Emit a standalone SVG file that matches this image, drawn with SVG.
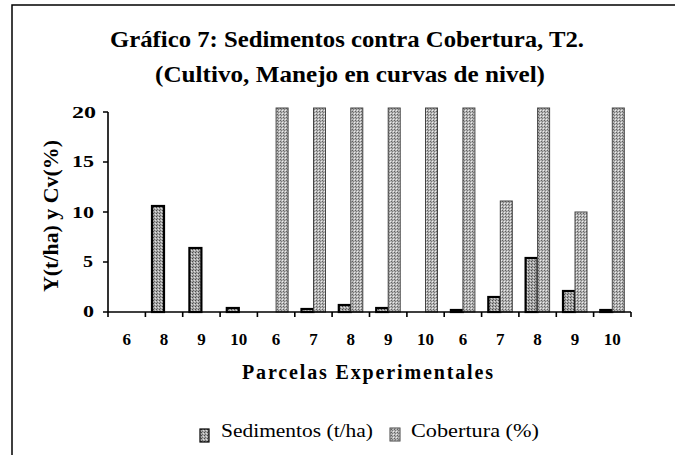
<svg xmlns="http://www.w3.org/2000/svg" width="675" height="456" viewBox="0 0 675 456">
<style>
  text { font-family: "Liberation Serif", "DejaVu Serif", "Times New Roman", serif; fill: #000; }
  .title { font-weight: bold; font-size: 23px; }
  .tick { font-weight: bold; font-size: 17px; }
  .axt { font-weight: bold; font-size: 20px; }
  .leg { font-size: 18px; }
  .ax { stroke: #000; stroke-width: 1.6; fill: none; }
  .sed { fill: url(#sedPat); stroke: #000; stroke-width: 2.2; }
  .cob { fill: url(#cobPat); stroke: #444; stroke-width: 1; }
  .frame { stroke: #000; stroke-width: 1.5; fill: none; }
</style>
<defs>
  <pattern id="sedPat" width="3" height="3" patternUnits="userSpaceOnUse">
    <rect width="3" height="3" fill="#a8a8a8"/>
    <rect x="0" y="0" width="1" height="1" fill="#4a4a4a"/>
    <rect x="2" y="1" width="1" height="1" fill="#e0e0e0"/>
    <rect x="1" y="2" width="1" height="1" fill="#6a6a6a"/>
  </pattern>
  <pattern id="cobPat" width="3" height="3" patternUnits="userSpaceOnUse">
    <rect width="3" height="3" fill="#b4b4b4"/>
    <rect x="1" y="0" width="1" height="1" fill="#606060"/>
    <rect x="0" y="2" width="1" height="1" fill="#eeeeee"/>
    <rect x="2" y="1" width="1" height="1" fill="#7a7a7a"/>
  </pattern>
</defs>
<rect width="675" height="456" fill="#fff"/>
<g id="frame">
  <path class="frame" d="M12,455 L12,5 L675,5"/>
</g>
<g id="title">
  <text class="title" x="110" y="47" textLength="474" lengthAdjust="spacingAndGlyphs">Gráfico 7: Sedimentos contra Cobertura, T2.</text>
  <text class="title" x="155" y="82" textLength="390" lengthAdjust="spacingAndGlyphs">(Cultivo, Manejo en curvas de nivel)</text>
</g>
<g id="y-axis">
  <path class="ax" d="M108,112 L108,312 M103,112 L108,112 M103,162 L108,162 M103,212 L108,212 M103,262 L108,262 M103,312 L108,312"/>
  <text class="tick" x="72" y="118" textLength="24" lengthAdjust="spacingAndGlyphs">20</text>
  <text class="tick" x="72" y="167" textLength="22" lengthAdjust="spacingAndGlyphs">15</text>
  <text class="tick" x="72" y="218" textLength="22" lengthAdjust="spacingAndGlyphs">10</text>
  <text class="tick" x="83" y="267" textLength="10" lengthAdjust="spacingAndGlyphs">5</text>
  <text class="tick" x="83" y="317" textLength="11" lengthAdjust="spacingAndGlyphs">0</text>
  <text class="axt" transform="translate(58,216) rotate(-90)" x="-76" y="0" textLength="152" lengthAdjust="spacingAndGlyphs">Y(t/ha) y Cv(%)</text>
</g>
<g id="bars">
  <rect class="sed" x="152.0" y="206" width="12" height="106"/>
  <rect class="sed" x="189.4" y="248" width="12" height="64"/>
  <rect class="sed" x="226.8" y="308" width="12" height="4"/>
  <rect class="cob" x="276.1" y="108" width="12" height="204"/>
  <rect class="sed" x="301.5" y="309" width="12" height="3"/>
  <rect class="cob" x="313.5" y="108" width="12" height="204"/>
  <rect class="sed" x="338.8" y="305" width="12" height="7"/>
  <rect class="cob" x="350.8" y="108" width="12" height="204"/>
  <rect class="sed" x="376.2" y="308" width="12" height="4"/>
  <rect class="cob" x="388.2" y="108" width="12" height="204"/>
  <rect class="cob" x="425.5" y="108" width="12" height="204"/>
  <rect class="sed" x="450.9" y="310" width="12" height="2"/>
  <rect class="cob" x="462.9" y="108" width="12" height="204"/>
  <rect class="sed" x="488.3" y="297" width="12" height="15"/>
  <rect class="cob" x="500.3" y="201" width="12" height="111"/>
  <rect class="sed" x="525.6" y="258" width="12" height="54"/>
  <rect class="cob" x="537.6" y="108" width="12" height="204"/>
  <rect class="sed" x="563.0" y="291" width="12" height="21"/>
  <rect class="cob" x="575.0" y="212" width="12" height="100"/>
  <rect class="sed" x="600.3" y="310" width="12" height="2"/>
  <rect class="cob" x="612.3" y="108" width="12" height="204"/>
</g>
<g id="x-axis">
  <path class="ax" d="M108,312 L631,312 M108,312 L108,317 M145.4,312 L145.4,317 M182.7,312 L182.7,317 M220.1,312 L220.1,317 M257.4,312 L257.4,317 M294.8,312 L294.8,317 M332.1,312 L332.1,317 M369.5,312 L369.5,317 M406.9,312 L406.9,317 M444.2,312 L444.2,317 M481.6,312 L481.6,317 M518.9,312 L518.9,317 M556.3,312 L556.3,317 M593.6,312 L593.6,317 M631,312 L631,317"/>
  <text class="tick" x="126.7" y="345" text-anchor="middle">6</text>
  <text class="tick" x="164.0" y="345" text-anchor="middle">8</text>
  <text class="tick" x="201.4" y="345" text-anchor="middle">9</text>
  <text class="tick" x="238.8" y="345" text-anchor="middle">10</text>
  <text class="tick" x="276.1" y="345" text-anchor="middle">6</text>
  <text class="tick" x="313.5" y="345" text-anchor="middle">7</text>
  <text class="tick" x="350.8" y="345" text-anchor="middle">8</text>
  <text class="tick" x="388.2" y="345" text-anchor="middle">9</text>
  <text class="tick" x="425.5" y="345" text-anchor="middle">10</text>
  <text class="tick" x="462.9" y="345" text-anchor="middle">6</text>
  <text class="tick" x="500.3" y="345" text-anchor="middle">7</text>
  <text class="tick" x="537.6" y="345" text-anchor="middle">8</text>
  <text class="tick" x="575.0" y="345" text-anchor="middle">9</text>
  <text class="tick" x="612.3" y="345" text-anchor="middle">10</text>
  <text class="axt" x="242" y="379" textLength="251" lengthAdjust="spacing">Parcelas Experimentales</text>
</g>
<g id="legend">
  <rect x="200" y="429" width="9" height="13" fill="url(#sedPat)" stroke="#000" stroke-width="1.2"/>
  <text class="leg" x="221" y="437" textLength="152" lengthAdjust="spacingAndGlyphs">Sedimentos (t/ha)</text>
  <rect x="390" y="428" width="10" height="13" fill="url(#cobPat)" stroke="#444" stroke-width="1"/>
  <text class="leg" x="411" y="437" textLength="128" lengthAdjust="spacingAndGlyphs">Cobertura (%)</text>
</g>
</svg>
